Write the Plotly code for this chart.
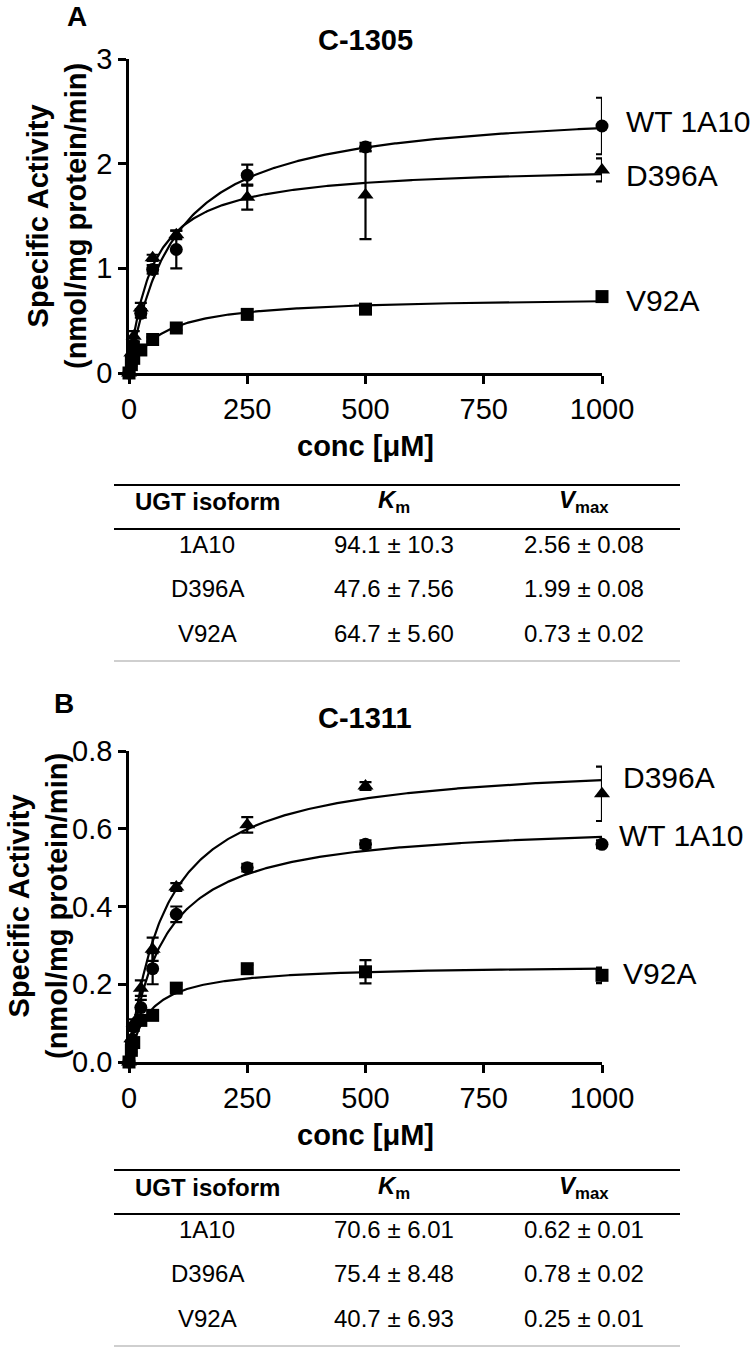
import numpy as np
import plotly.graph_objects as go

# ---------------- data ----------------
conc = [0, 5, 10, 25, 50, 100, 250, 500, 1000]
isoforms = ["1A10", "D396A", "V92A"]
series_labels = ["WT 1A10", "D396A", "V92A"]

# Panel A (C-1305)
a_wt = [0, 0.15, 0.27, 0.57, 0.99, 1.18, 1.89, 2.16, 2.36]
a_wt_err = [0, 0.02, 0.03, 0.04, 0.04, 0.18, 0.10, 0.04, 0.27]
a_d396a = [0, 0.19, 0.35, 0.62, 1.10, 1.32, 1.68, 1.70, 1.94]
a_d396a_err = [0, 0.03, 0.05, 0.05, 0.03, 0.04, 0.12, 0.42, 0.11]
a_v92a = [0, 0.08, 0.14, 0.22, 0.32, 0.43, 0.56, 0.61, 0.73]
a_v92a_err = [0, 0.01, 0.01, 0.02, 0.02, 0.02, 0.02, 0.02, 0.02]
a_km = [94.1, 47.6, 64.7]
a_km_se = ["10.3", "7.56", "5.60"]
a_vmax = [2.56, 1.99, 0.73]
a_vmax_se = ["0.08", "0.08", "0.02"]

# Panel B (C-1311)
b_wt = [0, 0.05, 0.09, 0.14, 0.24, 0.38, 0.50, 0.56, 0.56]
b_wt_err = [0, 0.005, 0.01, 0.02, 0.04, 0.02, 0.01, 0.01, 0.01]
b_d396a = [0, 0.06, 0.10, 0.19, 0.29, 0.45, 0.61, 0.71, 0.69]
b_d396a_err = [0, 0.01, 0.01, 0.02, 0.03, 0.01, 0.02, 0.01, 0.07]
b_v92a = [0, 0.03, 0.05, 0.107, 0.12, 0.19, 0.24, 0.232, 0.223]
b_v92a_err = [0, 0.005, 0.005, 0.01, 0.01, 0.01, 0.01, 0.03, 0.02]
b_km = [70.6, 75.4, 40.7]
b_km_se = ["6.01", "8.48", "6.93"]
b_vmax = [0.62, 0.78, 0.25]
b_vmax_se = ["0.01", "0.02", "0.01"]

x_ticks = [0, 250, 500, 750, 1000]
a_y_ticks = [0, 1, 2, 3]
b_y_ticks = [0, 0.2, 0.4, 0.6, 0.8]

FONT = "Liberation Sans, Arial, sans-serif"
W, H = 750, 1347


def px(x):
    return x / W


def py(y):
    return 1 - y / H


fig = go.Figure()

symbols = ["circle", "triangle-up", "square"]
msizes = [13, 14, 13]


def add_panel(xa, ya, data, errs, kms, vmaxs):
    xs = np.linspace(0, 1000, 401)
    for km, vm in zip(kms, vmaxs):
        # Michaelis-Menten fit drawn from the tabulated Km / Vmax
        fig.add_trace(go.Scatter(x=xs, y=vm * xs / (km + xs), mode="lines",
                                 line=dict(color="black", width=2.2),
                                 xaxis=xa, yaxis=ya, hoverinfo="skip",
                                 showlegend=False, cliponaxis=False))
    for vals, err, sym, ms in zip(data, errs, symbols, msizes):
        fig.add_trace(go.Scatter(x=conc, y=vals, mode="markers",
                                 marker=dict(symbol=sym, size=ms, color="black"),
                                 error_y=dict(type="data", array=err, visible=True,
                                              color="black", thickness=2.2, width=6),
                                 xaxis=xa, yaxis=ya, showlegend=False,
                                 cliponaxis=False))


add_panel("x", "y", [a_wt, a_d396a, a_v92a], [a_wt_err, a_d396a_err, a_v92a_err],
          a_km, a_vmax)
add_panel("x2", "y2", [b_wt, b_d396a, b_v92a], [b_wt_err, b_d396a_err, b_v92a_err],
          b_km, b_vmax)

axis_common = dict(showline=True, linecolor="black", linewidth=2.5, ticks="outside",
                   ticklen=8, tickwidth=2.5, tickcolor="black", showgrid=False,
                   zeroline=False, automargin=False,
                   tickfont=dict(family=FONT, size=29, color="black"))

fig.update_layout(
    template="none",
    width=W, height=H, margin=dict(l=0, r=0, t=0, b=0, pad=0, autoexpand=False),
    paper_bgcolor="white", plot_bgcolor="white", showlegend=False,
    xaxis=dict(domain=[px(129), px(602)], range=[0, 1000], tickvals=x_ticks,
               anchor="y", **axis_common),
    yaxis=dict(domain=[py(373), py(59)], range=[0, 3], tickvals=a_y_ticks,
               anchor="x", **axis_common),
    xaxis2=dict(domain=[px(129), px(602)], range=[0, 1000], tickvals=x_ticks,
                anchor="y2", **axis_common),
    yaxis2=dict(domain=[py(1062), py(751)], range=[0, 0.8], tickvals=b_y_ticks,
                tickformat=".1f", anchor="x2", **axis_common),
)

ann = []


def text(x, y, s, size=29, xanchor="center", angle=0):
    ann.append(dict(x=px(x), y=py(y), xref="paper", yref="paper", text=s,
                    showarrow=False, xanchor=xanchor, yanchor="middle",
                    textangle=angle, font=dict(family=FONT, size=size, color="black")))


ytitle = "<b>Specific Activity</b><br><b>(nmol/mg protein/min)</b>"

# Panel A texts
text(77, 16, "<b>A</b>", 28)
text(365, 40, "<b>C-1305</b>", 29)
text(57, 216, ytitle, 29, angle=-90)
text(365, 446, "<b>conc [μM]</b>", 29)
text(624, 121, series_labels[0], 30, "left")
text(624, 175, series_labels[1], 30, "left")
text(624, 301, series_labels[2], 30, "left")

# Panel B texts
text(64, 703, "<b>B</b>", 28)
text(365, 718, "<b>C-1311</b>", 29)
text(38, 906, ytitle, 29, angle=-90)
text(365, 1135, "<b>conc [μM]</b>", 29)
text(621, 777, series_labels[1], 30, "left")
text(617, 835, series_labels[0], 30, "left")
text(621, 973, series_labels[2], 30, "left")

shapes = []
col_x = [207, 394, 584]


def table(top, kms, km_se, vmaxs, vmax_se):
    line2 = top + 44
    bottom = top + 176
    for yy, col in [(top, "black"), (line2, "black"), (bottom, "#cfcfcf")]:
        shapes.append(dict(type="line", xref="paper", yref="paper",
                           x0=px(114), x1=px(680), y0=py(yy), y1=py(yy),
                           line=dict(color=col, width=2)))
    hy = top + 17
    text(col_x[0], hy, "<b>UGT isoform</b>", 24)
    text(col_x[1], hy, "<b><i>K</i><sub>m</sub></b>", 24)
    text(col_x[2], hy, "<b><i>V</i><sub>max</sub></b>", 24)
    for i in range(3):
        ry = top + 59 + i * 44.5
        text(col_x[0], ry, isoforms[i], 24)
        text(col_x[1], ry, f"{kms[i]:.1f} ± {km_se[i]}", 24)
        text(col_x[2], ry, f"{vmaxs[i]:.2f} ± {vmax_se[i]}", 24)


table(485, a_km, a_km_se, a_vmax, a_vmax_se)
table(1170, b_km, b_km_se, b_vmax, b_vmax_se)

fig.update_layout(annotations=ann, shapes=shapes)
fig.write_html("out.html", config={"displayModeBar": False},
               post_script="document.body.style.margin='0';document.body.style.overflow='hidden';")
